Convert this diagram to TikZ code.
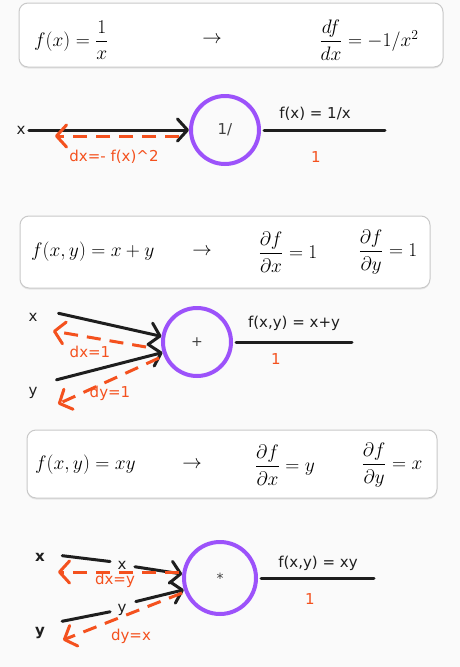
\documentclass[tikz,border=0pt]{standalone}
\usepackage{fix-cm}
\usepackage{amsmath}
\usepackage{fontspec}
\usepackage{xcolor}
\usepackage{tikz}
\usetikzlibrary{arrows.meta,shadows}
\newfontfamily\labelfont{DejaVu Sans}
\definecolor{ink}{HTML}{1E1E1E}
\definecolor{gradred}{HTML}{F4511E}
\definecolor{opviolet}{HTML}{9C52FA}
\definecolor{boxline}{HTML}{C9C9C9}
\definecolor{paper}{HTML}{FAFAFA}

\begin{document}
\begin{tikzpicture}[x=1pt, y=-1pt,
        eqbox/.style={draw=boxline, line width=1pt, fill=white, rounded corners=9pt,
            drop shadow={shadow xshift=0pt, shadow yshift=-1.5pt, opacity=0.08, fill=black}},
        eq/.style={inner sep=0pt, font=\fontsize{19.5}{23}\selectfont},
        lbl/.style={text=ink, font=\labelfont\fontsize{15}{18}\selectfont},
        blbl/.style={text=ink, font=\labelfont\bfseries\fontsize{15}{18}\selectfont},
        glbl/.style={text=gradred, font=\labelfont\fontsize{15}{18}\selectfont},
        opnode/.style={circle, draw=opviolet, line width=4pt, minimum size=68pt, inner sep=0pt,
            text=ink!85, font=\labelfont\fontsize{15}{18}\selectfont},
        wire/.style={draw=ink, line width=3pt, line cap=round},
        fwd/.style={wire, -{Straight Barb[length=10pt, width=22pt, round]}},
        grad/.style={draw=gradred, line width=3pt, dash pattern=on 14pt off 9pt,
            -{Straight Barb[length=10pt, width=22pt, round]}}]
    \fill[paper] (0,0) rectangle (460,667);
    \useasboundingbox (0,0) rectangle (460,667);

    % equation boxes
    \node[eqbox, minimum width=424pt, minimum height=64pt] (box1) at (231,35) {};
    \node[eqbox, minimum width=410pt, minimum height=72pt] (box2) at (225,252) {};
    \node[eqbox, minimum width=410pt, minimum height=68pt] (box3) at (232,464) {};

    \node[eq, anchor=west] (fa) at (34,40) {$f(x) = \dfrac{1}{x}$};
    \node[eq] (toa) at (212,40) {$\rightarrow$};
    \node[eq] (da) at (369,40) {$\dfrac{df}{dx} = -1/x^2$};

    \node[eq, anchor=west] (fb) at (31,252) {$f(x,y) = x + y$};
    \node[eq] (tob) at (202,252) {$\rightarrow$};
    \node[eq] (dxb) at (288,252) {$\dfrac{\partial f}{\partial x} = 1$};
    \node[eq] (dyb) at (388,252) {$\dfrac{\partial f}{\partial y} = 1$};

    \node[eq, anchor=west] (fc) at (35,465) {$f(x,y) = xy$};
    \node[eq] (toc) at (192,465) {$\rightarrow$};
    \node[eq] (dxc) at (285,465) {$\dfrac{\partial f}{\partial x} = y$};
    \node[eq] (dyc) at (392,465) {$\dfrac{\partial f}{\partial y} = x$};

    % 1/x
    \node[opnode] (inv) at (225,130) {1/};
    \node[lbl] (xa) at (21,130) {x};
    \coordinate (ga) at (55,136);
    \coordinate (oa) at (385,130);
    \draw[fwd] (xa) -- (inv);
    \draw[grad] ([shift={(-10,6)}]inv.west) -- (ga);
    \draw[wire, shorten <=3pt] (inv) -- (oa);
    \node[lbl] at (315,114) {f(x) = 1/x};
    \node[glbl] at (316,157) {1};
    \node[glbl] at (114,157) {dx=- f(x)\textasciicircum 2};

    % x+y
    \node[opnode, font=\labelfont\fontsize{14}{16}\selectfont] (add) at (197,342) {+};
    \node[lbl] (xb) at (33,317) {x};
    \node[lbl] (yb) at (33,393) {y};
    \coordinate (gbx) at (53,331);
    \coordinate (gby) at (58,404);
    \coordinate (ob) at (352,342);
    \draw[fwd, shorten <=18pt] (xb.north east) -- (add.171);
    \draw[fwd, shorten <=16pt] (yb.north east) -- (add.197);
    \draw[grad] ([shift={(-15,5)}]add.west) -- (gbx);
    \draw[grad] ([shift={(-2,16)}]add.west) -- (gby);
    \draw[wire, shorten <=3pt] (add) -- (ob);
    \node[lbl] at (294,323) {f(x,y) = x+y};
    \node[glbl] at (276,359) {1};
    \node[glbl] at (90,352) {dx=1};
    \node[glbl] at (110,393) {dy=1};

    % xy
    \node[opnode, minimum size=72pt, font=\labelfont\fontsize{14}{16}\selectfont] (mul) at (220,578) {*};
    \node[blbl] (xc) at (40,557) {x};
    \node[blbl] (yc) at (40,633) {y};
    \node[lbl] (xm) at (122,565) {x};
    \node[lbl] (ym) at (122,610) {y};
    \coordinate (gcx) at (58,572);
    \coordinate (gcy) at (63,640);
    \coordinate (oc) at (374,578);
    \draw[wire, shorten <=14pt, shorten >=4pt] ([yshift=3pt]xc.east) -- ([yshift=3pt]xm.west);
    \draw[fwd, shorten <=5pt] ([yshift=-1pt]xm.east) -- (mul.174);
    \draw[wire, shorten <=14pt, shorten >=4pt] ([yshift=9pt]yc.east) -- ([yshift=-1pt]ym.west);
    \draw[fwd, shorten <=6pt] ([yshift=7pt]ym.east) -- (mul.198);
    \draw[grad] ([shift={(-3,-6)}]mul.west) -- (gcx);
    \draw[grad] ([shift={(0,15)}]mul.west) -- (gcy);
    \draw[wire, shorten <=3pt] (mul) -- (oc);
    \node[lbl] at (318,563) {f(x,y) = xy};
    \node[glbl] at (310,599) {1};
    \node[glbl] at (115,580) {dx=y};
    \node[glbl] at (131,636) {dy=x};
\end{tikzpicture}
\end{document}
